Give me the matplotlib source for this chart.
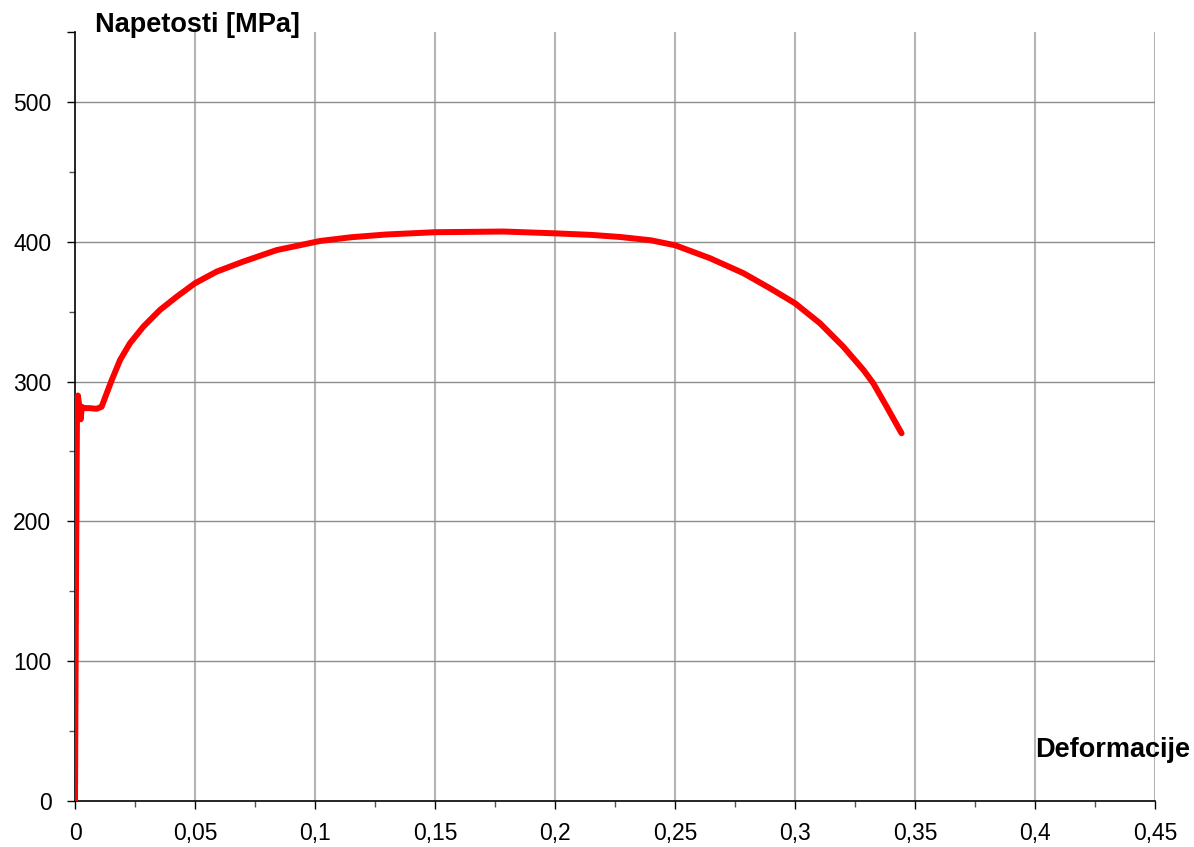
import matplotlib
matplotlib.use("Agg")
import matplotlib.pyplot as plt
import numpy as np

plt.rcParams['font.family'] = ['Liberation Sans', 'DejaVu Sans']

# tensile test curve
strain = [0, 0.0004, 0.0008, 0.0012, 0.0016, 0.0020, 0.0024, 0.0028, 0.0035,
          0.006, 0.009, 0.0111, 0.0132, 0.0153, 0.0188, 0.0229, 0.0285, 0.0354,
          0.0424, 0.05, 0.059, 0.0701, 0.084, 0.102, 0.115, 0.1299, 0.15,
          0.1785, 0.2, 0.215, 0.2271, 0.24, 0.25, 0.2646, 0.2785, 0.2896, 0.3,
          0.3104, 0.3201, 0.3285, 0.3326, 0.3382, 0.3444]
stress = [0, 150, 270, 290, 285, 276, 273, 282, 281,
          281, 280.5, 282, 291.6, 301, 315.5, 327.4, 339.3, 351.2,
          360.7, 370.3, 378.6, 385.8, 394, 400.5, 403.2, 405.2, 406.8,
          407.3, 406, 404.9, 403.4, 401, 397.5, 388.2, 377.5, 366.7, 356,
          341.7, 325, 308.3, 298.8, 282, 263]

x_ticks = [0, 0.05, 0.1, 0.15, 0.2, 0.25, 0.3, 0.35, 0.4, 0.45]
x_labels = ["0", "0,05", "0,1", "0,15", "0,2", "0,25", "0,3", "0,35", "0,4", "0,45"]
y_ticks = [0, 100, 200, 300, 400, 500]

fig = plt.figure(figsize=(11.94, 8.47), dpi=100)
ax = fig.add_axes([75/1194, 1 - 801/847, (1155 - 75)/1194, (801 - 32)/847])

ax.set_xlim(0, 0.45)
ax.set_ylim(0, 550)

# gridlines drawn by hand so the top edge stays open
for xv in x_ticks[1:]:
    ax.axvline(xv, color='#b4b4b4', lw=1.5, zorder=1)
for yv in y_ticks[1:]:
    ax.axhline(yv, color='#8c8c8c', lw=1.0, zorder=1)

ax.plot(strain, stress, color='#ff0000', lw=4.3, solid_capstyle='round',
        solid_joinstyle='round', zorder=3)

for s in ['top', 'right']:
    ax.spines[s].set_visible(False)
for s in ['left', 'bottom']:
    ax.spines[s].set_color('black')
    ax.spines[s].set_linewidth(1.2)

ax.set_xticks(x_ticks)
ax.set_xticklabels(x_labels)
ax.set_xticks(np.arange(0.025, 0.45, 0.05), minor=True)
ax.set_yticks(y_ticks + [550])
ax.set_yticklabels([str(v) for v in y_ticks] + [""])
ax.set_yticks(np.arange(50, 550, 100), minor=True)

ax.tick_params(axis='both', which='major', direction='out', length=6, width=1,
               labelsize=16.5, color='black')
ax.tick_params(axis='x', which='major', pad=9)
ax.tick_params(axis='y', which='major', pad=11)
ax.tick_params(axis='both', which='minor', direction='out', length=4, width=1,
               color='#555555')

fig.text(95/1194, 1 - 32/847, "Napetosti [MPa]", fontsize=19.5,
         fontweight='bold', ha='left', va='baseline')
fig.text(1035/1194, 1 - 757/847, "Deformacije", fontsize=19.5,
         fontweight='bold', ha='left', va='baseline')

fig.savefig("out.png", dpi=100)
